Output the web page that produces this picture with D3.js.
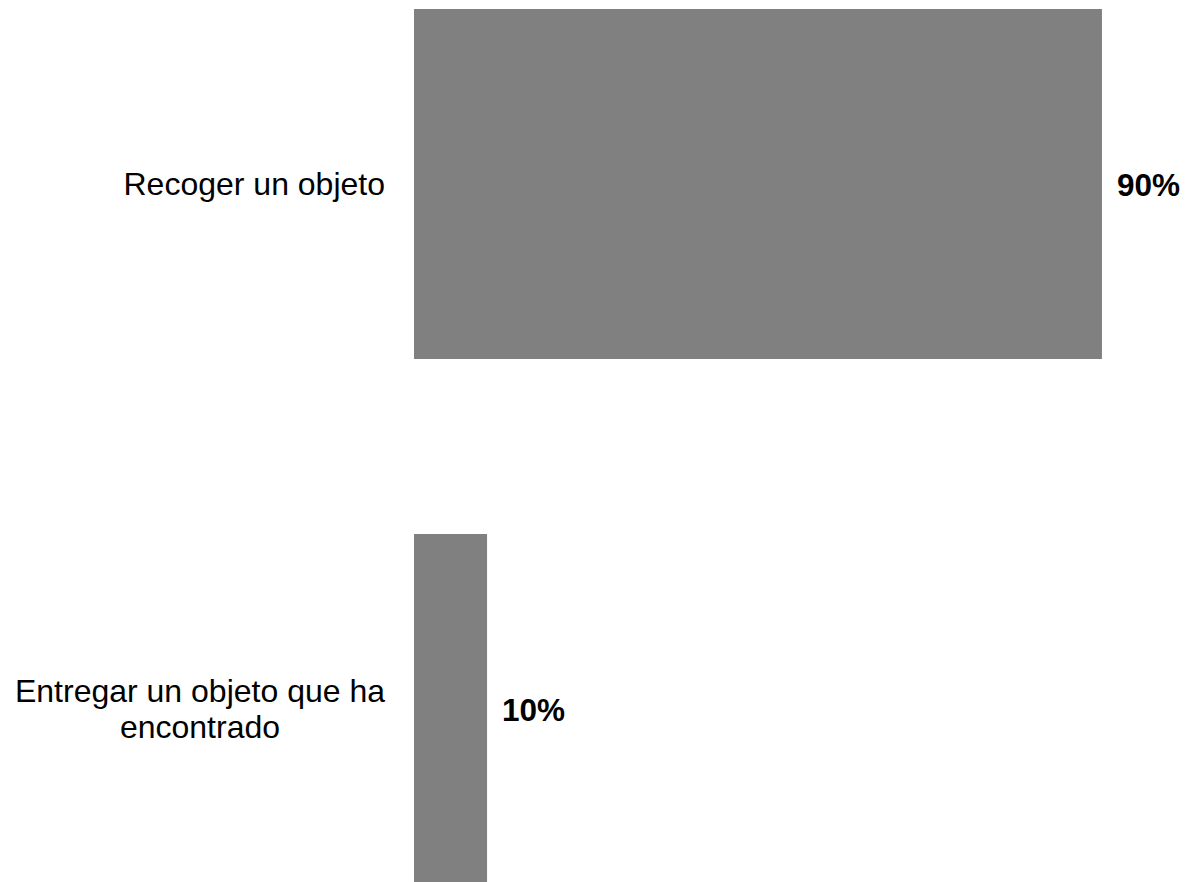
<!DOCTYPE html>
<html>
<head>
<meta charset="utf-8">
<script src="https://cdn.jsdelivr.net/npm/d3@7"></script>
<style>
  body { margin: 0; background: #fff; }
  text { font-family: "Liberation Sans", Arial, sans-serif; fill: #000; }
</style>
</head>
<body>
<div id="chart"></div>
<script>
// labels and values
var categories = [
  ["Recoger un objeto"],
  ["Entregar un objeto que ha", "encontrado"]
];
var values = [90.4, 9.6];

var width = 1189, height = 882;

var svg = d3.select("#chart")
  .append("svg")
  .attr("width", width)
  .attr("height", height);

var x = d3.scaleLinear().domain([0, 100]).range([414, 1175]);
var y = d3.scaleBand()
  .domain(d3.range(values.length))
  .range([9, 884])
  .paddingInner(1 / 3)
  .paddingOuter(0);

var fmt = d3.format(".0f");

svg.selectAll("rect.bar")
  .data(values)
  .enter()
  .append("rect")
  .attr("class", "bar")
  .attr("x", x(0))
  .attr("y", function(d, i) { return y(i); })
  .attr("width", function(d) { return x(d) - x(0); })
  .attr("height", y.bandwidth())
  .attr("fill", "#808080");

// value labels
svg.selectAll("text.value")
  .data(values)
  .enter()
  .append("text")
  .attr("class", "value")
  .attr("x", function(d) { return x(d) + 15; })
  .attr("y", function(d, i) { return y(i) + y.bandwidth() / 2 + 12; })
  .style("font-size", "31.5px")
  .style("font-weight", "bold")
  .text(function(d) { return fmt(d) + "%"; });

// category labels: block right-aligned, lines centred within it
var lineH = 36, rightEdge = 385;
categories.forEach(function(lines, i) {
  var cy = y(i) + y.bandwidth() / 2;
  var t = svg.append("text")
    .attr("class", "cat")
    .style("font-size", "32px")
    .attr("text-anchor", "middle");
  var spans = t.selectAll("tspan")
    .data(lines)
    .enter()
    .append("tspan")
    .attr("y", function(d, j) { return cy + 11 - (lines.length - 1) * lineH / 2 + j * lineH; })
    .text(function(d) { return d; });
  var maxW = 0;
  spans.each(function() { maxW = Math.max(maxW, this.getComputedTextLength()); });
  spans.attr("x", rightEdge - maxW / 2);
});
</script>
</body>
</html>
